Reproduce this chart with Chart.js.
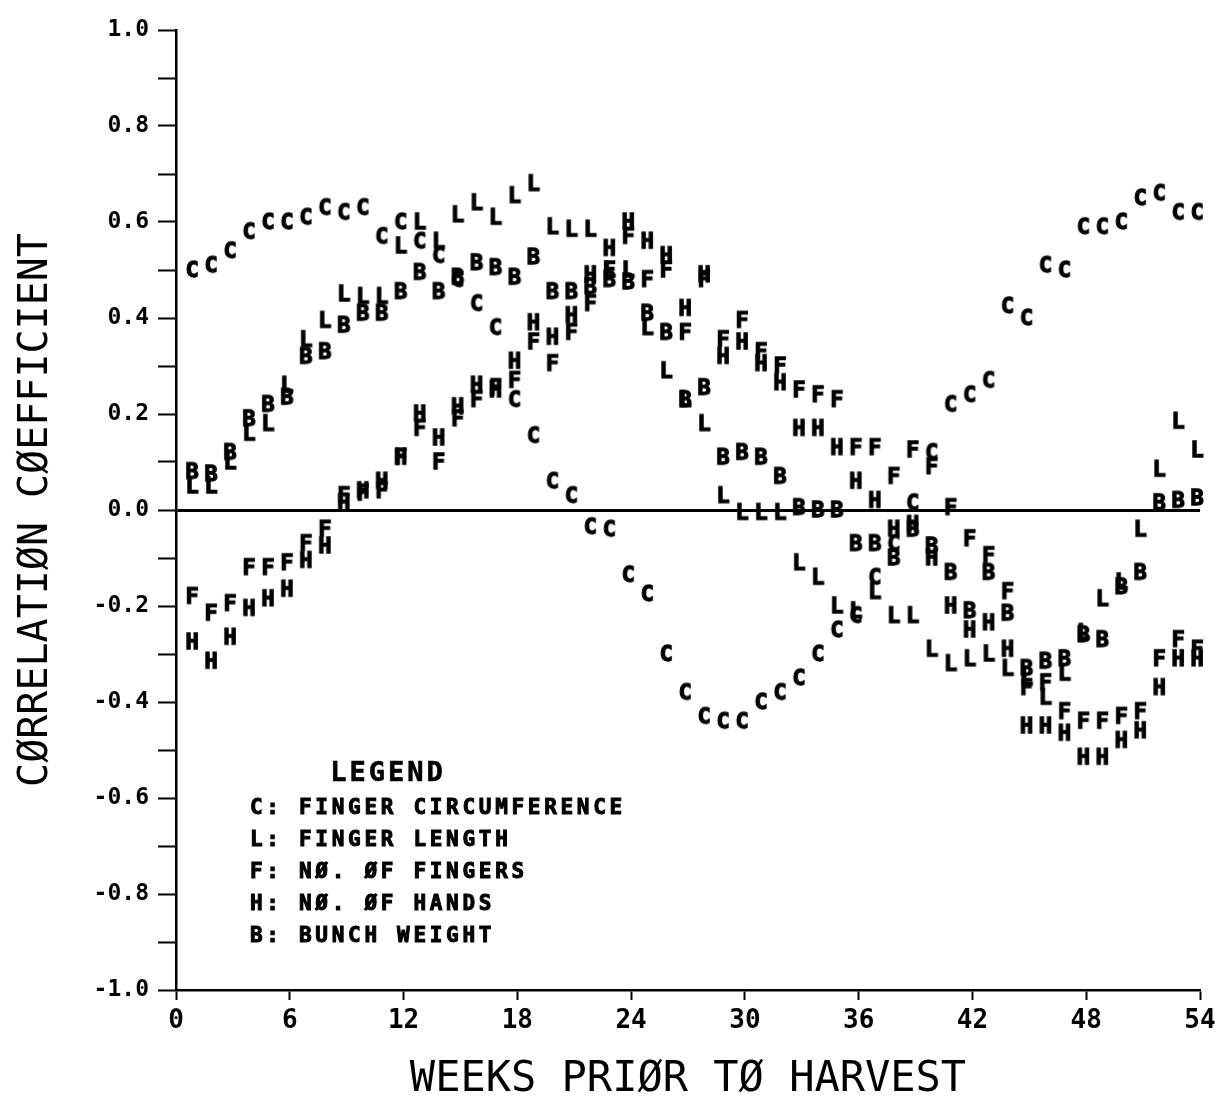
<!DOCTYPE html>
<html>
<head>
<meta charset="utf-8">
<script src="https://cdn.jsdelivr.net/npm/chart.js@4.4.1/dist/chart.umd.min.js"></script>
<style>
  html, body { margin: 0; padding: 0; background: #fff; }
  #wrap { width: 1222px; height: 1099px; position: relative; }
</style>
</head>
<body>
<div id="wrap"><canvas id="corrChart"></canvas></div>
<script>
// weeks prior to harvest (x) and the five correlation series
const weeks = [1,2,3,4,5,6,7,8,9,10,11,12,13,14,15,16,17,18,19,20,21,22,23,24,25,26,27,
  28,29,30,31,32,33,34,35,36,37,38,39,40,41,42,43,44,45,46,47,48,49,50,51,52,53,54];

const fingerCircumference = [0.50,0.51,0.54,0.58,0.60,0.60,0.61,0.63,0.62,0.63,0.57,0.60,0.56,0.53,
  0.48,0.43,0.38,0.23,0.155,0.06,0.03,-0.035,-0.04,-0.135,-0.175,-0.30,-0.38,-0.43,-0.44,-0.44,
  -0.40,-0.38,-0.35,-0.30,-0.25,-0.22,-0.14,-0.07,0.015,0.12,0.22,0.24,0.27,0.425,0.40,0.51,0.50,
  0.59,0.59,0.60,0.65,0.66,0.62,0.62];

const fingerLength = [0.05,0.05,0.10,0.16,0.18,0.26,0.355,0.395,0.45,0.445,0.445,0.55,0.60,0.56,
  0.615,0.64,0.61,0.655,0.68,0.59,0.585,0.585,0.50,0.50,0.38,0.29,0.23,0.18,0.03,-0.005,-0.005,
  -0.005,-0.11,-0.14,-0.20,-0.21,-0.17,-0.22,-0.22,-0.29,-0.32,-0.31,-0.30,-0.33,-0.35,-0.39,-0.34,
  -0.255,-0.185,-0.15,-0.04,0.085,0.185,0.125];

const numFingers = [-0.18,-0.215,-0.195,-0.12,-0.12,-0.11,-0.07,-0.04,0.03,0.035,0.04,0.11,0.17,0.10,
  0.19,0.23,0.255,0.27,0.35,0.305,0.37,0.43,0.50,0.57,0.48,0.50,0.37,0.48,0.355,0.395,0.33,0.30,
  0.25,0.24,0.23,0.13,0.13,0.07,0.125,0.09,0.005,-0.06,-0.095,-0.17,-0.37,-0.36,-0.42,-0.44,-0.44,
  -0.43,-0.42,-0.31,-0.27,-0.29];

const numHands = [-0.275,-0.315,-0.265,-0.205,-0.185,-0.165,-0.105,-0.075,0.015,0.04,0.06,0.11,0.20,
  0.15,0.215,0.26,0.25,0.31,0.39,0.36,0.405,0.49,0.545,0.60,0.56,0.53,0.42,0.49,0.32,0.35,0.305,
  0.265,0.17,0.17,0.13,0.06,0.02,-0.04,-0.03,-0.10,-0.20,-0.25,-0.235,-0.29,-0.45,-0.45,-0.465,
  -0.515,-0.515,-0.48,-0.46,-0.37,-0.31,-0.31];

const bunchWeight = [0.08,0.075,0.12,0.19,0.22,0.235,0.32,0.33,0.385,0.41,0.41,0.455,0.495,0.455,
  0.485,0.515,0.505,0.485,0.527,0.455,0.455,0.465,0.48,0.475,0.41,0.37,0.23,0.255,0.11,0.12,0.11,
  0.07,0.005,0.0,0.0,-0.07,-0.07,-0.10,-0.04,-0.075,-0.13,-0.21,-0.13,-0.215,-0.33,-0.315,-0.31,
  -0.26,-0.27,-0.16,-0.13,0.015,0.02,0.025];

const seriesKeys = ['C', 'L', 'F', 'H', 'B'];
const seriesNames = ['FINGER CIRCUMFERENCE', 'FINGER LENGTH', 'NØ. ØF FINGERS', 'NØ. ØF HANDS', 'BUNCH WEIGHT'];
const seriesValues = [fingerCircumference, fingerLength, numFingers, numHands, bunchWeight];

const xTickLabels = ['0','6','12','18','24','30','36','42','48','54'];
const yTickLabels = ['1.0','0.8','0.6','0.4','0.2','0.0','-0.2','-0.4','-0.6','-0.8','-1.0'];

// letters are the plot markers, so build a little canvas per letter
function letterMark(ch) {
  const c = document.createElement('canvas');
  c.width = 28;
  c.height = 28;
  const g = c.getContext('2d');
  g.font = 'bold 22px "DejaVu Sans Mono"';
  g.textAlign = 'center';
  g.textBaseline = 'middle';
  g.fillStyle = '#000';
  g.strokeStyle = '#000';
  g.lineWidth = 1.3;
  g.fillText(ch, 11, 15);
  g.strokeText(ch, 11, 15);
  return c;
}

const datasets = seriesKeys.map((k, i) => ({
  label: k + ': ' + seriesNames[i],
  data: seriesValues[i].map((v, j) => ({x: weeks[j], y: v})),
  pointStyle: letterMark(k),
  pointRadius: 6,
  showLine: false
}));

// the text legend sitting inside the plot
const textLegend = {
  id: 'textLegend',
  afterDraw(chart) {
    const {ctx, chartArea} = chart;
    ctx.save();
    ctx.fillStyle = '#000';
    ctx.strokeStyle = '#000';
    ctx.textBaseline = 'middle';
    ctx.textAlign = 'center';
    ctx.font = 'bold 27px "DejaVu Sans Mono"';
    ctx.letterSpacing = '3px';
    ctx.lineWidth = 0.6;
    ctx.fillText('LEGEND', chartArea.left + 212, chartArea.top + 744);
    ctx.strokeText('LEGEND', chartArea.left + 212, chartArea.top + 744);
    ctx.textAlign = 'left';
    ctx.font = 'bold 21px "DejaVu Sans Mono"';
    ctx.letterSpacing = '3.7px';
    ctx.lineWidth = 1;
    seriesKeys.forEach((k, i) => {
      const t = k + ': ' + seriesNames[i];
      ctx.fillText(t, chartArea.left + 74, chartArea.top + 779 + i * 32);
      ctx.strokeText(t, chartArea.left + 74, chartArea.top + 779 + i * 32);
    });
    ctx.restore();
  }
};

new Chart(document.getElementById('corrChart'), {
  type: 'scatter',
  data: { datasets: datasets },
  options: {
    responsive: true,
    maintainAspectRatio: false,
    animation: false,
    events: [],
    clip: false,
    layout: { padding: { top: 30, right: 22, left: 0, bottom: 0 } },
    plugins: {
      legend: { display: false },
      tooltip: { enabled: false }
    },
    scales: {
      x: {
        type: 'linear',
        min: 0,
        max: 54,
        afterFit: (s) => { s.height = 109; },
        border: { display: true, color: '#000', width: 2.5 },
        grid: { drawOnChartArea: false, drawTicks: true, tickLength: 10, tickColor: '#000', tickWidth: 2 },
        ticks: {
          stepSize: 6,
          autoSkip: false,
          maxRotation: 0,
          padding: 6,
          color: '#000',
          font: { family: '"DejaVu Sans Mono"', size: 26, weight: 'bold' },
          callback: (v) => xTickLabels.includes(String(v)) ? String(v) : ''
        },
        title: {
          display: true,
          text: 'WEEKS PRIØR TØ HARVEST',
          color: '#000',
          font: { family: '"DejaVu Sans Mono"', size: 42, lineHeight: 0.9 },
          padding: { top: 0, bottom: 0 }
        }
      },
      y: {
        type: 'linear',
        min: -1,
        max: 1,
        afterFit: (s) => { s.width = 176; },
        border: { display: true, color: '#000', width: 2.5 },
        grid: {
          drawOnChartArea: true,
          color: (c) => (c.tick && Math.abs(c.tick.value) < 1e-9) ? '#000' : 'rgba(0,0,0,0)',
          lineWidth: (c) => (c.tick && Math.abs(c.tick.value) < 1e-9) ? 3 : 1,
          tickLength: 18,
          tickColor: '#000',
          tickWidth: 2
        },
        ticks: {
          stepSize: 0.1,
          autoSkip: false,
          padding: 9,
          color: '#000',
          font: { family: '"DejaVu Sans Mono"', size: 23, weight: 'bold' },
          callback: (v) => {
            const s = (Math.abs(v) < 1e-9 ? 0 : v).toFixed(1);
            return yTickLabels.includes(s) ? s : '';
          }
        },
        title: {
          display: true,
          text: 'CØRRELATIØN CØEFFICIENT',
          color: '#000',
          font: { family: '"DejaVu Sans Mono"', size: 40 },
          padding: { top: 13, bottom: 0 }
        }
      }
    }
  },
  plugins: [textLegend]
});
</script>
</body>
</html>
